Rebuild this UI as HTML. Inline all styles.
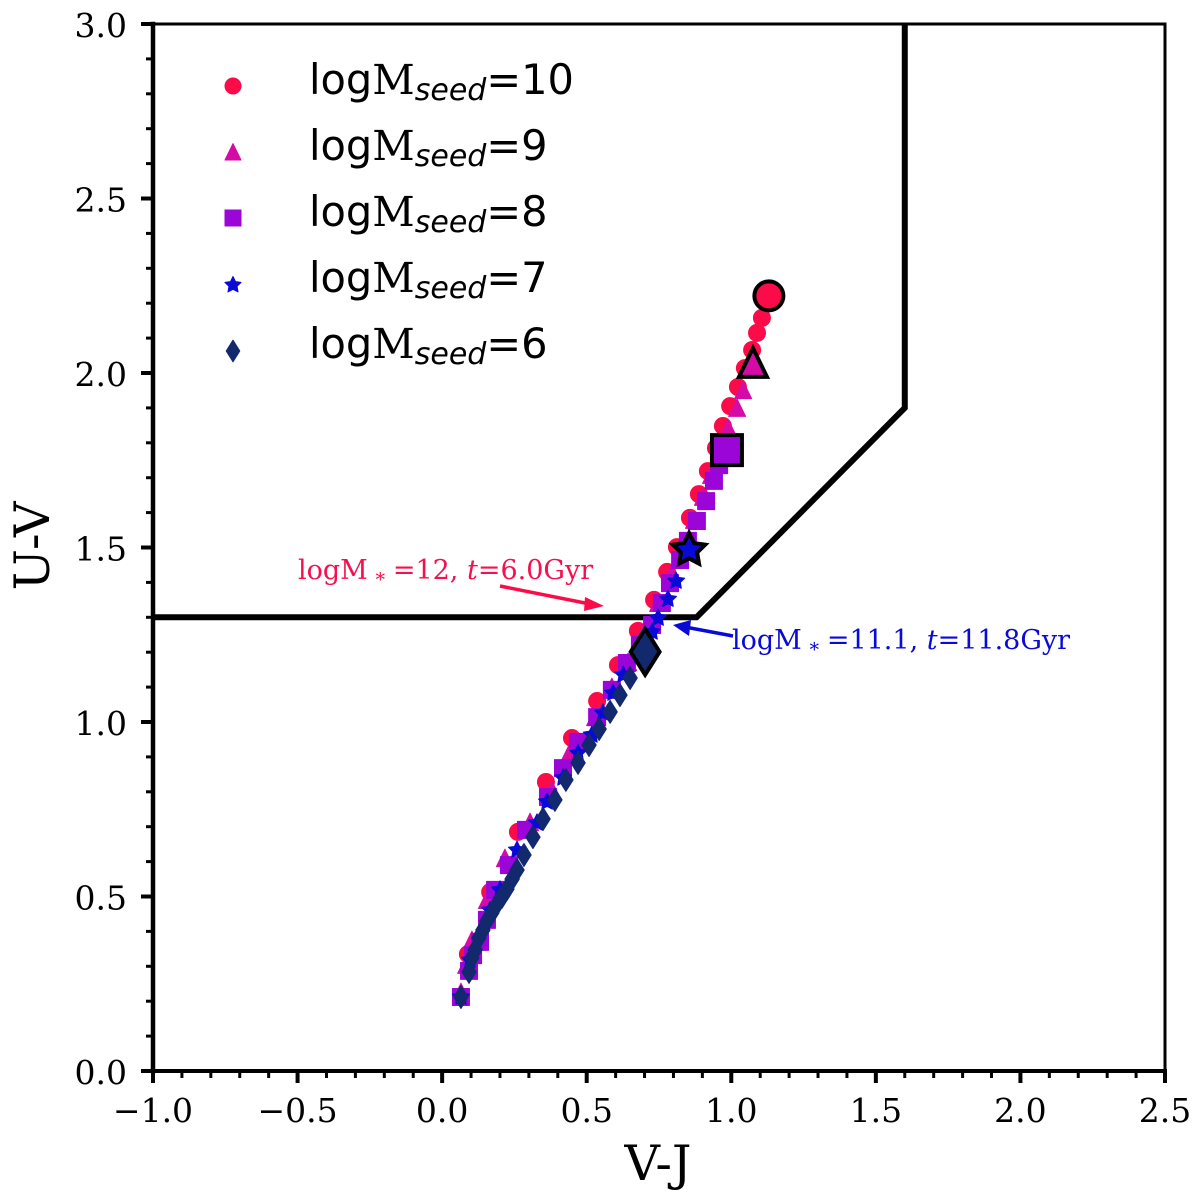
<!DOCTYPE html>
<html>
<head>
<meta charset="utf-8">
<title>U-V vs V-J diagram</title>
<style>
html,body{margin:0;padding:0;background:#fff;width:1200px;height:1200px;overflow:hidden}
svg{display:block}
text{fill:#000}
.tick{font-family:"DejaVu Serif","Liberation Serif",serif;font-size:33px}
.axis{font-family:"DejaVu Serif","Liberation Serif",serif;font-size:49px}
.leg{font-family:"DejaVu Sans","Liberation Sans",sans-serif;font-size:41.5px}
.ann{font-family:"DejaVu Serif","Liberation Serif",serif;font-size:27px}
</style>
</head>
<body>
<svg id="chart" width="1200" height="1200" viewBox="0 0 1200 1200" xmlns="http://www.w3.org/2000/svg">
  <g id="boundary-layer"></g>
  <g id="marks-layer"></g>
  <g id="frame-layer"></g>
  <g id="annotation-layer">
    <text class="ann" x="298" y="579" style="fill:#f5104f">logM<tspan font-size="19" dy="3"> ∗ </tspan><tspan dy="-3">=12, </tspan><tspan font-style="italic">t</tspan>=6.0Gyr</text>
    <line x1="500" y1="586" x2="590" y2="604" stroke="#fb0b47" stroke-width="3.5"></line>
    <polygon points="604,606 585,597 584,611" fill="#fb0b47"></polygon>
    <text class="ann" x="732" y="649" style="fill:#0a0ad6">logM<tspan font-size="19" dy="3"> ∗ </tspan><tspan dy="-3">=11.1, </tspan><tspan font-style="italic">t</tspan>=11.8Gyr</text>
    <line x1="733" y1="636" x2="685" y2="627" stroke="#0a0ad6" stroke-width="3.5"></line>
    <polygon points="673,625 691,620 689,636" fill="#0a0ad6"></polygon>
  </g>
  <g id="legend">
    <text class="leg" x="309" y="94">log<tspan font-family="DejaVu Serif">M</tspan><tspan font-size="30" font-style="italic" dy="6">seed</tspan><tspan dy="-6">=10</tspan></text>
    <text class="leg" x="309" y="160">log<tspan font-family="DejaVu Serif">M</tspan><tspan font-size="30" font-style="italic" dy="6">seed</tspan><tspan dy="-6">=9</tspan></text>
    <text class="leg" x="309" y="226">log<tspan font-family="DejaVu Serif">M</tspan><tspan font-size="30" font-style="italic" dy="6">seed</tspan><tspan dy="-6">=8</tspan></text>
    <text class="leg" x="309" y="292">log<tspan font-family="DejaVu Serif">M</tspan><tspan font-size="30" font-style="italic" dy="6">seed</tspan><tspan dy="-6">=7</tspan></text>
    <text class="leg" x="309" y="358">log<tspan font-family="DejaVu Serif">M</tspan><tspan font-size="30" font-style="italic" dy="6">seed</tspan><tspan dy="-6">=6</tspan></text>
  </g>
</svg>
<script>
// Data (V-J, U-V). The first point of each series is the highlighted end point.
const seed10X = [1.130,1.106,1.089,1.072,1.047,1.023,0.996,0.971,0.947,0.919,0.888,0.857,0.812,0.778,0.733,0.677,0.608,0.536,0.449,0.359,0.262,0.166,0.089,0.065];
const seed10Y = [2.221,2.158,2.115,2.066,2.014,1.960,1.905,1.848,1.785,1.719,1.653,1.585,1.501,1.430,1.350,1.261,1.163,1.060,0.954,0.828,0.685,0.513,0.335,0.212];
const seed9X = [1.075,1.041,1.020,0.989,0.958,0.930,0.902,0.871,0.830,0.792,0.747,0.702,0.643,0.587,0.529,0.442,0.380,0.304,0.217,0.155,0.103,0.083,0.065];
const seed9Y = [2.029,1.951,1.900,1.842,1.774,1.708,1.645,1.579,1.496,1.424,1.341,1.264,1.172,1.100,1.014,0.914,0.805,0.713,0.610,0.490,0.375,0.304,0.226];
const seed8X = [0.985,0.958,0.940,0.913,0.881,0.850,0.823,0.788,0.760,0.726,0.684,0.639,0.587,0.536,0.470,0.418,0.366,0.290,0.231,0.183,0.155,0.131,0.107,0.093,0.065];
const seed8Y = [1.779,1.736,1.691,1.633,1.576,1.519,1.464,1.398,1.341,1.278,1.221,1.169,1.092,1.014,0.943,0.868,0.785,0.691,0.590,0.519,0.433,0.370,0.332,0.287,0.212];
const seed7X = [0.854,0.809,0.781,0.747,0.726,0.684,0.626,0.591,0.556,0.518,0.470,0.418,0.363,0.328,0.259,0.200,0.166,0.096,0.065];
const seed7Y = [1.493,1.404,1.352,1.298,1.258,1.192,1.135,1.083,1.026,0.963,0.911,0.840,0.771,0.711,0.633,0.519,0.461,0.318,0.212];
const seed6X = [0.702,0.650,0.615,0.581,0.543,0.508,0.470,0.428,0.390,0.349,0.314,0.283,0.259,0.242,0.224,0.207,0.190,0.172,0.155,0.141,0.127,0.114,0.103,0.093,0.065];
const seed6Y = [1.201,1.126,1.077,1.029,0.980,0.934,0.883,0.834,0.777,0.722,0.670,0.619,0.576,0.550,0.521,0.499,0.479,0.453,0.430,0.404,0.381,0.347,0.324,0.284,0.212];
const boundaryX = [-1.0,0.88,1.6,1.6];
const boundaryY = [1.3,1.3,1.9,3.0];
const xTickValues = [-1.0,-0.5,0.0,0.5,1.0,1.5,2.0,2.5];
const xTickLabels = ['−1.0','−0.5','0.0','0.5','1.0','1.5','2.0','2.5'];
const yTickValues = [0.0,0.5,1.0,1.5,2.0,2.5,3.0];
const yTickLabels = ['0.0','0.5','1.0','1.5','2.0','2.5','3.0'];
const xMinorValues = [-0.9,-0.8,-0.7,-0.6,-0.4,-0.3,-0.2,-0.1,0.1,0.2,0.3,0.4,0.6,0.7,0.8,0.9,1.1,1.2,1.3,1.4,1.6,1.7,1.8,1.9,2.1,2.2,2.3,2.4];
const yMinorValues = [0.1,0.2,0.3,0.4,0.6,0.7,0.8,0.9,1.1,1.2,1.3,1.4,1.6,1.7,1.8,1.9,2.1,2.2,2.3,2.4,2.6,2.7,2.8,2.9];

const NS = 'http://www.w3.org/2000/svg';
const L = 153, R = 1165, T = 24, B = 1071;
function sx(v){ return L + (v - (-1)) * (R - L) / 3.5; }
function sy(v){ return B - v * (B - T) / 3; }

function markerShape(kind, cx, cy, s){
  let el, pts;
  if (kind === 'circle') {
    el = document.createElementNS(NS, 'circle');
    el.setAttribute('cx', cx);
    el.setAttribute('cy', cy);
    el.setAttribute('r', s);
    return el;
  }
  el = document.createElementNS(NS, 'polygon');
  if (kind === 'triangle') {
    pts = [[cx, cy - s * 1.05], [cx + s, cy + s], [cx - s, cy + s]];
  } else if (kind === 'square') {
    pts = [[cx - s, cy - s], [cx + s, cy - s], [cx + s, cy + s], [cx - s, cy + s]];
  } else if (kind === 'diamond') {
    pts = [[cx, cy - s * 1.35], [cx + s * 0.85, cy], [cx, cy + s * 1.35], [cx - s * 0.85, cy]];
  } else {
    pts = [];
    for (let i = 0; i < 10; i++) {
      const r = i % 2 ? s * 0.5 : s;
      const a = -Math.PI / 2 + i * Math.PI / 5;
      pts.push([cx + r * Math.cos(a), cy + r * Math.sin(a)]);
    }
  }
  el.setAttribute('points', pts.map(p => p[0].toFixed(2) + ',' + p[1].toFixed(2)).join(' '));
  return el;
}

const marks = document.getElementById('marks-layer');
const frame = document.getElementById('frame-layer');
const boundary = document.getElementById('boundary-layer');
const legendGroup = document.getElementById('legend');

// Boundary line
const boundaryLine = document.createElementNS(NS, 'polyline');


boundaryLine.setAttribute('points', boundaryX.map((v, i) => sx(v) + ',' + sy(boundaryY[i])).join(' '));
boundaryLine.setAttribute('fill', 'none');
boundaryLine.setAttribute('stroke', '#000');
boundaryLine.setAttribute('stroke-width', '6');
boundary.appendChild(boundaryLine);

function drawSeries(xs, ys, kind, color, size){
  for (let i = xs.length - 1; i >= 1; i--) {
    const m = markerShape(kind, sx(xs[i]), sy(ys[i]), size);
    
    
    m.setAttribute('fill', color);
    m.setAttribute('stroke', color);
    m.setAttribute('stroke-width', '1');
    m.setAttribute('stroke-linejoin', 'round');
    marks.appendChild(m);
  }
}
function drawHighlight(xs, ys, kind, color, size){
  const h = markerShape(kind, sx(xs[0]), sy(ys[0]), size);
  
  
  h.setAttribute('fill', color);
  h.setAttribute('stroke', '#000');
  h.setAttribute('stroke-width', '4');
  h.setAttribute('stroke-linejoin', 'miter');
  marks.appendChild(h);
}
function drawLegendMarker(kind, color, size, cy){
  const k = markerShape(kind, 233, cy, size);
  
  
  k.setAttribute('fill', color);
  k.setAttribute('stroke', color);
  k.setAttribute('stroke-width', '1');
  k.setAttribute('stroke-linejoin', 'round');
  legendGroup.appendChild(k);
}

const RED = '#fb0b47', MAG = '#d40ba5', PUR = '#9b05d8', BLU = '#0a0ad6', NAV = '#13296e';
drawSeries(seed10X, seed10Y, 'circle', RED, 8.5);
drawSeries(seed9X, seed9Y, 'triangle', MAG, 8.5);
drawSeries(seed8X, seed8Y, 'square', PUR, 8.5);
drawSeries(seed7X, seed7Y, 'star', BLU, 9);
drawSeries(seed6X, seed6Y, 'diamond', NAV, 8.5);
drawHighlight(seed10X, seed10Y, 'circle', RED, 14.5);
drawHighlight(seed9X, seed9Y, 'triangle', MAG, 14);
drawHighlight(seed8X, seed8Y, 'square', PUR, 15);
drawHighlight(seed7X, seed7Y, 'star', BLU, 17);
drawHighlight(seed6X, seed6Y, 'diamond', NAV, 17);
drawLegendMarker('circle', RED, 8, 86);
drawLegendMarker('triangle', MAG, 8, 152);
drawLegendMarker('square', PUR, 8, 218);
drawLegendMarker('star', BLU, 8.5, 285);
drawLegendMarker('diamond', NAV, 8, 351);

// Frame
const spineDefs = [[L, T, L, B, 4.5], [L, B, R, B, 4], [L, T, R, T, 3], [R, T, R, B, 3]];
spineDefs.forEach(d => {
  const s = document.createElementNS(NS, 'line');
  
  
  s.setAttribute('x1', d[0]);
  s.setAttribute('y1', d[1]);
  s.setAttribute('x2', d[2]);
  s.setAttribute('y2', d[3]);
  s.setAttribute('stroke', '#000');
  s.setAttribute('stroke-width', d[4]);
  s.setAttribute('stroke-linecap', 'square');
  frame.appendChild(s);
});
function tickLine(x1, y1, x2, y2, w){
  const t = document.createElementNS(NS, 'line');
  
  
  t.setAttribute('x1', x1);
  t.setAttribute('y1', y1);
  t.setAttribute('x2', x2);
  t.setAttribute('y2', y2);
  t.setAttribute('stroke', '#000');
  t.setAttribute('stroke-width', w);
  frame.appendChild(t);
}
function tickText(str, x, y, anchor){
  const t = document.createElementNS(NS, 'text');
  
  
  t.setAttribute('class', 'tick');
  t.setAttribute('x', x);
  t.setAttribute('y', y);
  t.setAttribute('text-anchor', anchor);
  t.textContent = str;
  frame.appendChild(t);
}
xTickValues.forEach((v, i) => {
  tickLine(sx(v), B, sx(v), B + 12, 4);
  tickText(xTickLabels[i], sx(v), 1122, 'middle');
});
yTickValues.forEach((v, i) => {
  tickLine(L - 12, sy(v), L, sy(v), 4);
  tickText(yTickLabels[i], 127, sy(v) + 13, 'end');
});
xMinorValues.forEach(v => tickLine(sx(v), B, sx(v), B + 7, 3));
yMinorValues.forEach(v => tickLine(L - 7, sy(v), L, sy(v), 3));

// Axis titles
const xTitle = document.createElementNS(NS, 'text');


xTitle.setAttribute('class', 'axis');
xTitle.setAttribute('x', 658);
xTitle.setAttribute('y', 1180);
xTitle.setAttribute('text-anchor', 'middle');
xTitle.textContent = 'V-J';
frame.appendChild(xTitle);

const yTitle = document.createElementNS(NS, 'text');


yTitle.setAttribute('class', 'axis');
yTitle.setAttribute('text-anchor', 'middle');
yTitle.setAttribute('transform', 'translate(49,546) rotate(-90)');
yTitle.textContent = 'U-V';
frame.appendChild(yTitle);
</script>
</body>
</html>
